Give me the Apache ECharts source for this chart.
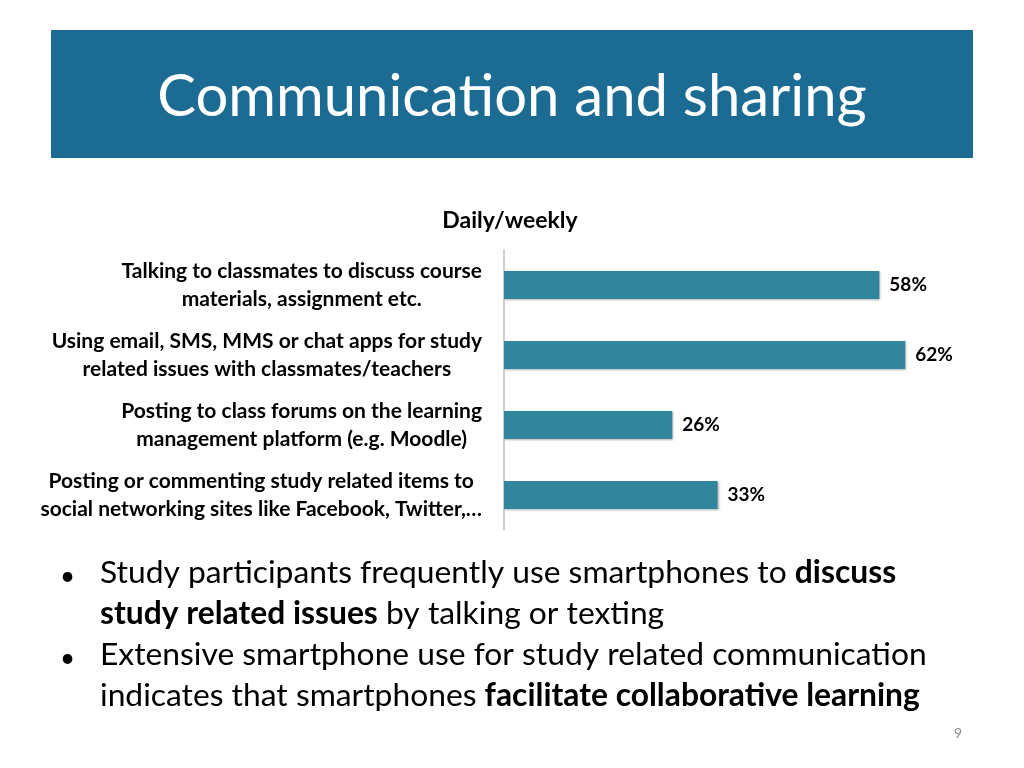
<html>
<head>
<meta charset="utf-8">
<script src="https://cdn.jsdelivr.net/npm/echarts@6/dist/echarts.min.js"></script>
<style>
  html, body { margin: 0; padding: 0; background: #fff; }
  #main { width: 1024px; height: 768px; }
</style>
</head>
<body>
<div id="main"></div>
<script type="text/javascript">
// data
var chartTitle = 'Daily/weekly';
var categories = [
    'Talking to classmates to discuss course\nmaterials, assignment etc.',
    'Using email, SMS, MMS or chat apps for study\nrelated issues with classmates/teachers',
    'Posting to class forums on the learning\nmanagement platform (e.g. Moodle)',
    'Posting or commenting study related items to\nsocial networking sites like Facebook, Twitter,\u2026'
];
var values = [58, 62, 26, 33];

var FONT = 'Lato';
var myChart = echarts.init(document.getElementById('main'));

option = {
    backgroundColor: '#ffffff',
    animation: false,
    title: {
        text: chartTitle,
        left: 505,
        top: 204,
        textAlign: 'center',
        textStyle: { fontFamily: FONT, fontSize: 23, fontWeight: 'bold', color: '#000' }
    },
    grid: { left: 504, top: 250, width: 453, height: 280 },
    xAxis: {
        type: 'value',
        min: 0,
        max: 70,
        show: false,
        splitLine: { show: false }
    },
    yAxis: {
        type: 'category',
        inverse: true,
        data: categories,
        axisLine: { show: true, lineStyle: { color: '#bfbfbf', width: 1.5 } },
        axisTick: { show: false },
        axisLabel: {
            margin: 22,
            align: 'right',
            lineHeight: 28,
            formatter: function (v) {
                return v.split('\n').map(function (s) { return '{c|' + s + '}'; }).join('\n');
            },
            rich: {
                c: { align: 'center', fontFamily: FONT, fontSize: 21, fontWeight: 'bold', color: '#000', lineHeight: 28 }
            }
        }
    },
    series: [{
        type: 'bar',
        data: values,
        barWidth: 28,
        itemStyle: {
            color: '#31859c',
            shadowColor: 'rgba(0,0,0,0.3)',
            shadowBlur: 2,
            shadowOffsetX: 1,
            shadowOffsetY: 1
        },
        label: {
            show: true,
            position: 'right',
            distance: 10,
            formatter: '{c}%',
            fontFamily: FONT,
            fontSize: 19,
            fontWeight: 'bold',
            color: '#000'
        }
    }],
    graphic: [
        {
            type: 'rect',
            shape: { x: 51, y: 30, width: 922, height: 128 },
            style: { fill: '#1b6b93' }
        },
        {
            type: 'text',
            x: 512, y: 97,
            style: {
                text: 'Communication and sharing',
                fill: '#fff',
                font: '58px ' + FONT,
                textAlign: 'center',
                textVerticalAlign: 'middle'
            }
        },
        {
            type: 'text', x: 60, y: 556,
            style: { text: '\u2022', fill: '#000', font: '26px ' + FONT, lineHeight: 41 }
        },
        {
            type: 'text', x: 60, y: 638,
            style: { text: '\u2022', fill: '#000', font: '26px ' + FONT, lineHeight: 41 }
        },
        {
            type: 'text', x: 100, y: 552,
            style: {
                text: '{n|Study participants frequently use smartphones to }{b|discuss}\n{b|study related issues}{n| by talking or texting}',
                rich: {
                    n: { fontFamily: FONT, fontSize: 31.8, color: '#000', lineHeight: 41 },
                    b: { fontFamily: FONT, fontSize: 31.8, fontWeight: 'bold', color: '#000', lineHeight: 41 }
                }
            }
        },
        {
            type: 'text', x: 100, y: 634,
            style: {
                text: '{n|Extensive smartphone use for study related communication}\n{n|indicates that smartphones }{b|facilitate collaborative learning}',
                rich: {
                    n: { fontFamily: FONT, fontSize: 31.8, color: '#000', lineHeight: 41 },
                    b: { fontFamily: FONT, fontSize: 31.8, fontWeight: 'bold', color: '#000', lineHeight: 41 }
                }
            }
        },
        {
            type: 'text', x: 958, y: 733,
            style: { text: '9', fill: '#8c8c8c', font: '14px ' + FONT, textAlign: 'center', textVerticalAlign: 'middle' }
        }
    ]
};
myChart.setOption(option);
</script>
</body>
</html>
